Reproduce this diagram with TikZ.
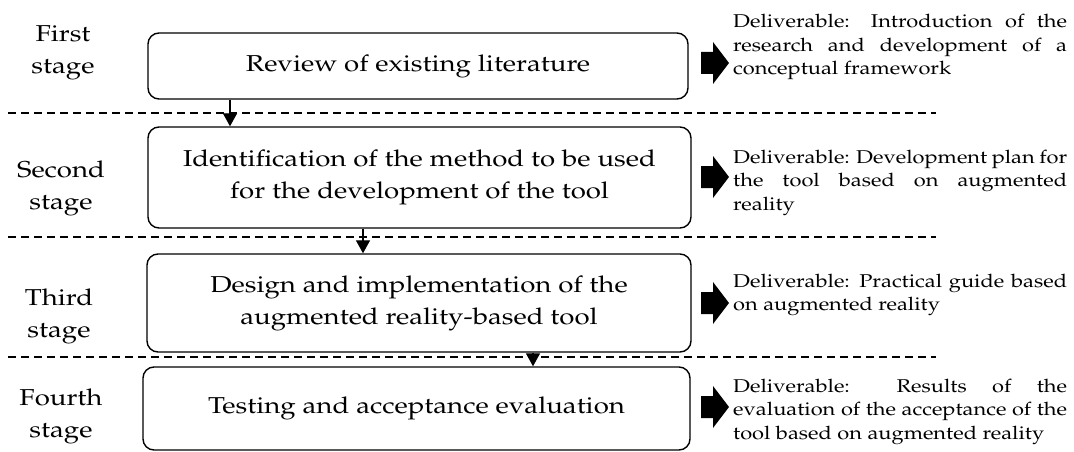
\documentclass[tikz,border=0pt]{standalone}
\usepackage[T1]{fontenc}
\usepackage{mathpazo}
\usepackage{graphicx}
\usetikzlibrary{arrows.meta}
\newcommand{\stretchx}{1.2}
\newcommand{\btext}[1]{\scalebox{\stretchx}[1]{\parbox{430pt}{\centering\fontsize{23}{32}\selectfont #1}}}
\newcommand{\stxt}[1]{\scalebox{\stretchx}[1]{\parbox[t]{80pt}{\centering\fontsize{23}{32}\selectfont #1}}}
\newcommand{\dtxt}[1]{\scalebox{1.18}[1]{\parbox[t]{283pt}{\fontsize{18.5}{23.5}\selectfont\hyphenpenalty=10000\exhyphenpenalty=10000 #1}}}
\tikzset{
  stagebox/.style={draw, line width=1.4pt, rounded corners=11pt, inner sep=0pt},
  stagelabel/.style={inner sep=0pt, anchor=base},
  deliv/.style={inner sep=0pt, anchor=base west},
  conn/.style={line width=1.3pt, -{Triangle[length=13pt,width=14pt]}},
  sep/.style={line width=1.2pt, dash pattern=on 8pt off 5pt},
  blockarr/.pic={\fill (0,-11) -- (12,-11) -- (12,-21) -- (28,0) -- (12,21) -- (12,11) -- (0,11) -- cycle;}
}
\begin{document}
\begin{tikzpicture}[x=1pt,y=-1pt]
\useasboundingbox (0,0) rectangle (1074,452);
% separators
\draw[sep] (8,113) -- (936,113);
\draw[sep] (8,237) -- (936,237);
\draw[sep] (8,357) -- (936,357);
% boxes
\node[stagebox, minimum width=540pt, minimum height=66pt] (b1) at (418,66) {\btext{Review of existing literature}};
\node[stagebox, minimum width=543pt, minimum height=101pt] (b2) at (419.5,177.5) {\btext{Identification of the method to be used\\ for the development of the tool}};
\node[stagebox, minimum width=544pt, minimum height=98pt] (b3) at (419,303) {\btext{Design and implementation of the\\ augmented reality-based tool}};
\node[stagebox, minimum width=547pt, minimum height=83pt] (b4) at (416.5,408.5) {\btext{Testing and acceptance evaluation}};
% stage labels
\node[stagelabel] (s1) at (63,42) {\stxt{First\\ stage}};
\node[stagelabel] (s2) at (61,177) {\stxt{Second\\ stage}};
\node[stagelabel] (s3) at (59,305) {\stxt{Third\\ stage}};
\node[stagelabel] (s4) at (61,405) {\stxt{Fourth\\ stage}};
% connectors
\coordinate (x1) at (230,0);
\coordinate (x2) at (363,0);
\coordinate (x3) at (533,0);
\draw[conn] (b1.south -| x1) -- (b2.north -| x1);
\draw[conn] (b2.south -| x2) -- (b3.north -| x2);
\draw[conn] (b3.south -| x3) -- (b4.north -| x3);
% block arrows
\pic at (701,63) {blockarr};
\pic at (701,177) {blockarr};
\pic at (701,303) {blockarr};
\pic at (701,407) {blockarr};
% deliverables
\node[deliv] (d1) at (733,28) {\dtxt{Deliverable: Introduction of the\linebreak research and development of a\linebreak conceptual framework}};
\node[deliv] (d2) at (733,163) {\dtxt{Deliverable: Development plan for\linebreak the tool based on augmented\linebreak reality}};
\node[deliv] (d3) at (733,287) {\dtxt{Deliverable: Practical guide based\linebreak on augmented reality}};
\node[deliv] (d4) at (733,392) {\dtxt{Deliverable: Results of the\linebreak evaluation of the acceptance of the\linebreak tool based on augmented reality}};
\end{tikzpicture}
\end{document}
